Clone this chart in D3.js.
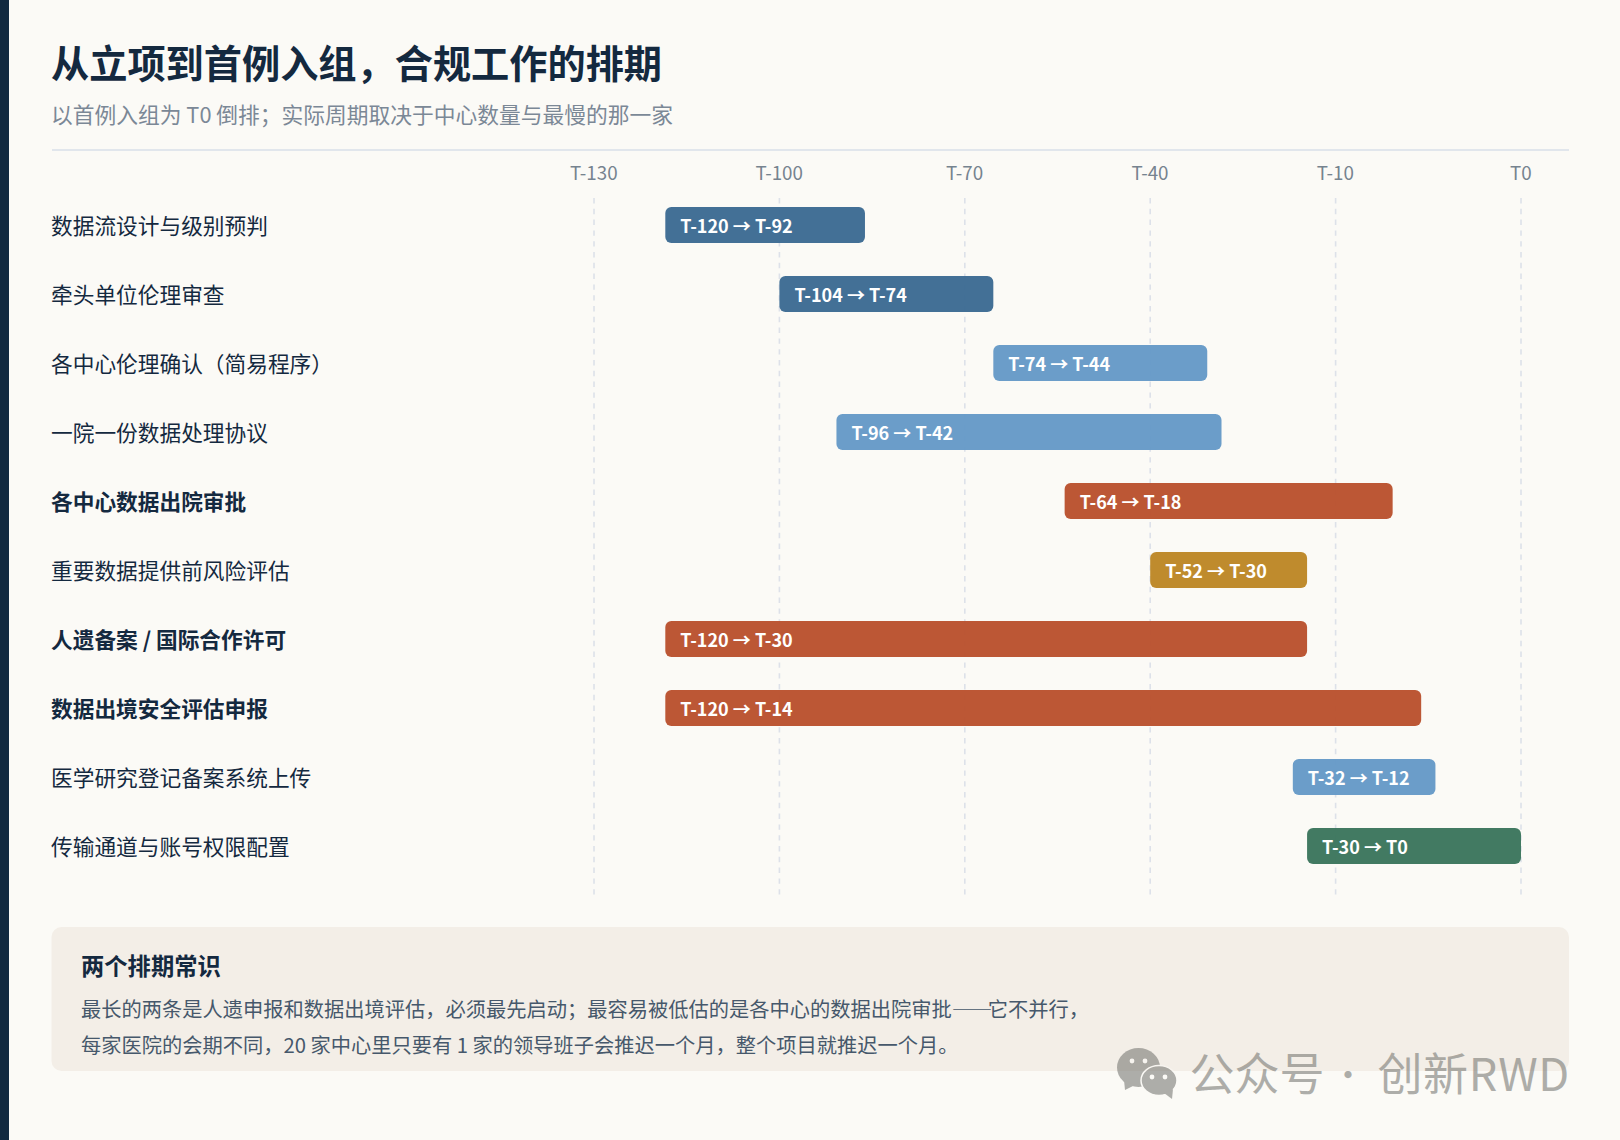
<!DOCTYPE html>
<html lang="zh"><head><meta charset="utf-8">
<script src="https://cdn.jsdelivr.net/npm/d3@7/dist/d3.min.js"></script>
<style>
html,body{margin:0;padding:0;background:#fbfaf6;overflow:hidden}
svg{display:block}
text{font-family:"Noto Sans CJK SC","Noto Sans",sans-serif}
</style></head><body><svg id="c" width="1620" height="1140"></svg>
<script>
const title = "从立项到首例入组，合规工作的排期";
const subtitle = "以首例入组为 T0 倒排；实际周期取决于中心数量与最慢的那一家";
const tasks = ["数据流设计与级别预判","牵头单位伦理审查","各中心伦理确认（简易程序）","一院一份数据处理协议","各中心数据出院审批","重要数据提供前风险评估","人遗备案 / 国际合作许可","数据出境安全评估申报","医学研究登记备案系统上传","传输通道与账号权限配置"];
const starts = [120,104,74,96,64,52,120,120,32,30];
const ends = [92,74,44,42,18,30,30,14,12,0];
const kinds = ["design","design","ethics","ethics","critical","review","critical","critical","ethics","tech"];
const boldTasks = ["各中心数据出院审批","人遗备案 / 国际合作许可","数据出境安全评估申报"];
const tickValues = [130,104,78,52,26,0];
const tickLabels = ["T-130","T-100","T-70","T-40","T-10","T0"];
const noteTitle = "两个排期常识";
const noteLine1 = ["最长的两条是人遗申报和数据出境评估，必须最先启动；最容易被低估的是各中心的数据出院审批","——","它不并行，"];
const noteLine2 = "每家医院的会期不同，20 家中心里只要有 1 家的领导班子会推迟一个月，整个项目就推迟一个月。";
const wmLeft = "公众号";
const wmDot = "·";
const wmRight = "创新RWD";
const kindColors = {design:"#3b6a92",ethics:"#6599c7",critical:"#b9502d",review:"#bc8624",tech:"#3a755c"};

const svg = d3.select("#c");
const x = d3.scaleLinear().domain([130,0]).range([594,1521]);
const y = d3.scaleBand().domain(tasks).range([190.4,880.4]).paddingInner(0.478).paddingOuter(0.239);
const ink = "#14293f";

svg.append("rect").attr("x",0).attr("y",0).attr("width",9).attr("height",1140).attr("fill","#12293f");
svg.append("text").attr("x",51).attr("y",78).attr("font-size",38.2).attr("font-weight",700).attr("fill",ink).text(title);
svg.append("text").attr("x",51).attr("y",122.5).attr("font-size",21.75).attr("fill","#7b8896").text(subtitle);
svg.append("rect").attr("x",52).attr("y",149).attr("width",1517).attr("height",2).attr("fill","#e1e6ec");

// axis
const axis = d3.axisTop(x).tickValues(tickValues).tickSize(0).tickPadding(0).tickFormat((d,i)=>tickLabels[i]);
const gA = svg.append("g").attr("transform","translate(-0.7,180)").call(axis);
gA.select(".domain").remove();
gA.selectAll("text").attr("font-size",18.8).attr("fill","#76838f").attr("font-family",'"Noto Sans CJK SC"');

svg.append("g").selectAll("line").data(tickValues).join("line")
  .attr("x1",d=>x(d)).attr("x2",d=>x(d)).attr("y1",198).attr("y2",896.5)
  .attr("stroke","#dde1e9").attr("stroke-width",1.6).attr("stroke-dasharray","5.4 5.4");

svg.append("g").selectAll("text").data(tasks).join("text")
  .attr("x",51).attr("y",d=>y(d)+y.bandwidth()/2+8.9)
  .attr("font-size",21.7).attr("font-weight",d=>boldTasks.includes(d)?700:400).attr("fill",ink).text(d=>d);

const g = svg.append("g").selectAll("g").data(tasks).join("g");
g.append("rect").attr("x",(d,i)=>x(starts[i])).attr("y",d=>y(d))
  .attr("width",(d,i)=>x(ends[i])-x(starts[i])).attr("height",y.bandwidth()).attr("rx",6)
  .attr("fill",(d,i)=>kindColors[kinds[i]]).attr("fill-opacity",.96);
g.append("text").attr("x",(d,i)=>x(starts[i])+15).attr("y",d=>y(d)+y.bandwidth()/2+7.8)
  .attr("font-size",18).attr("font-weight",700).attr("fill","#fff")
  .text((d,i)=>`T-${starts[i]} → ${ends[i]===0?"T0":"T-"+ends[i]}`);

// note
svg.append("rect").attr("x",51.5).attr("y",927).attr("width",1517.5).attr("height",144).attr("rx",10).attr("fill","#f3eee7");
svg.append("text").attr("x",81).attr("y",975).attr("font-size",23.3).attr("font-weight",700).attr("fill",ink).text(noteTitle);
const n1 = svg.append("text").attr("x",81).attr("y",1017).attr("font-size",20.25).attr("fill","#46586b");
n1.selectAll("tspan").data(noteLine1).join("tspan").attr("letter-spacing",(d,i)=>i===1?-4.5:0).text(d=>d);
svg.append("text").attr("x",81).attr("y",1053).attr("font-size",20.25).attr("fill","#46586b").text(noteLine2);

// watermark
const wmFill = "#6f6f6b", wmOp = .55;
const wm = svg.append("g").attr("fill",wmFill).attr("opacity",wmOp);
wm.append("text").attr("x",1189.5).attr("y",1091).attr("font-size",45).text(wmLeft);
wm.append("text").attr("x",1348).attr("y",1088).attr("font-size",34).attr("text-anchor","middle").attr("font-family",'"Noto Sans"').text(wmDot);
wm.append("text").attr("x",1377.5).attr("y",1091).attr("font-size",45).attr("letter-spacing",0.6).text(wmRight);
const ic = svg.append("g").attr("opacity",wmOp);
ic.append("ellipse").attr("cx",1138.5).attr("cy",1067.5).attr("rx",21.5).attr("ry",19.5).attr("fill",wmFill);
ic.append("path").attr("fill",wmFill).attr("d","M1124 1080l1 10 10 -5z");
ic.append("ellipse").attr("cx",1159).attr("cy",1080.5).attr("rx",18).attr("ry",15).attr("fill",wmFill).attr("stroke","#fbfaf6").attr("stroke-width",1.5);
ic.append("path").attr("fill",wmFill).attr("d","M1164 1093l9 -4 -1 10z");
[[1132,1061],[1145,1061],[1152,1077],[1165,1077]].forEach(p=>ic.append("circle").attr("cx",p[0]).attr("cy",p[1]).attr("r",2.4).attr("fill","#fbfaf6"));
</script></body></html>
